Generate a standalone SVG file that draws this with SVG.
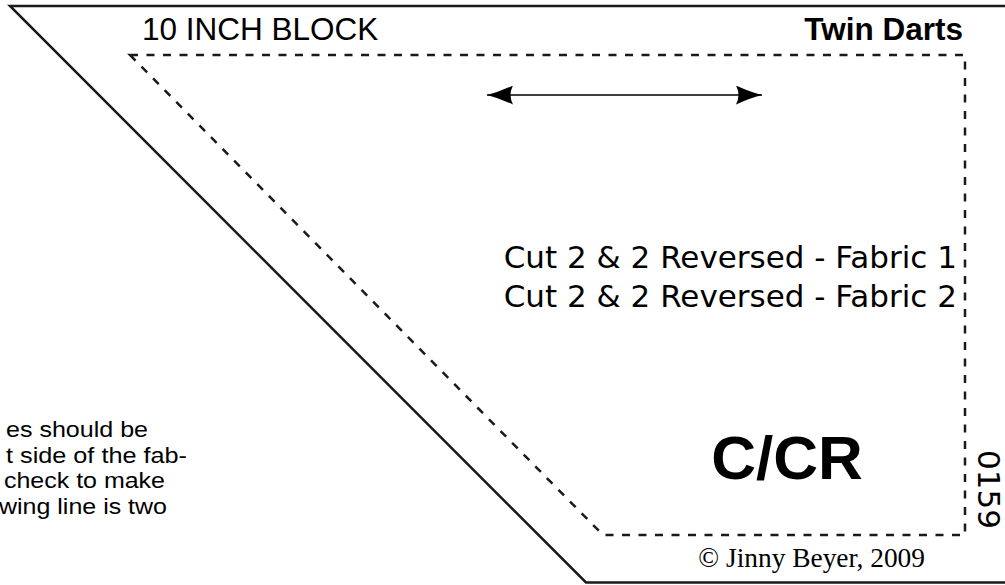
<svg xmlns="http://www.w3.org/2000/svg" width="1005" height="585" viewBox="0 0 1005 585">
  <style>
    .solid { fill: none; stroke: #1a1a1a; stroke-width: 2.5; }
    .seam { fill: none; stroke: #1a1a1a; stroke-width: 2.5; stroke-dasharray: 8 8.5; }
    .sans { font-family: "Liberation Sans", Arial, sans-serif; fill: #000; }
    .wide { font-family: "DejaVu Sans", sans-serif; fill: #000; }
    .serif { font-family: "Liberation Serif", "Times New Roman", serif; fill: #000; }
    .grain { stroke: #000; stroke-width: 1.6; fill: none; }
  </style>
  <defs>
    <marker id="barb" viewBox="0 0 26 19" refX="26" refY="9.5" markerWidth="26" markerHeight="19" markerUnits="userSpaceOnUse" orient="auto-start-reverse">
      <path d="M26,9.5 Q14,6.5 0,0 Q5,9.5 0,19 Q14,12.5 26,9.5 Z" fill="#000"/>
    </marker>
  </defs>
  <rect width="1005" height="585" fill="#fff"/>

  <g id="outline">
    <polyline class="solid" points="1010,6 10,6 586,582.5 1010,582.5"/>
  </g>

  <g id="seam-line">
    <polygon class="seam" points="130,55 965,55 965,535 603,535"/>
  </g>

  <g id="connectors">
    <line class="grain" x1="487" y1="95" x2="762" y2="95" marker-start="url(#barb)" marker-end="url(#barb)"/>
  </g>

  <g id="block-title">
    <text class="sans" x="142" y="40" font-size="31.5">10 INCH BLOCK</text>
  </g>
  <g id="pattern-name">
    <text class="sans" x="963" y="40" font-size="31.5" font-weight="bold" text-anchor="end">Twin Darts</text>
  </g>

  <g id="cutting-notes">
    <text class="wide" x="957" y="268" font-size="31" text-anchor="end">Cut 2 &amp; 2 Reversed - Fabric 1</text>
    <text class="wide" x="957" y="307" font-size="31" text-anchor="end">Cut 2 &amp; 2 Reversed - Fabric 2</text>
  </g>

  <g id="side-note">
    <text class="sans" x="6" y="437" font-size="22.8" textLength="142" lengthAdjust="spacingAndGlyphs">es should be</text>
    <text class="sans" x="6" y="462.5" font-size="22.8" textLength="181" lengthAdjust="spacingAndGlyphs">t side of the fab-</text>
    <text class="sans" x="4" y="488" font-size="22.8" textLength="161" lengthAdjust="spacingAndGlyphs">check to make</text>
    <text class="sans" x="-1" y="513.5" font-size="22.8" textLength="168" lengthAdjust="spacingAndGlyphs">wing line is two</text>
  </g>

  <g id="piece-label">
    <text class="sans" x="787" y="479" font-size="62" font-weight="bold" text-anchor="middle">C/CR</text>
  </g>

  <g id="piece-number">
    <text class="wide" transform="translate(978,450) rotate(90)" x="0" y="0" font-size="31">0159</text>
  </g>

  <g id="copyright">
    <text class="serif" x="925" y="567" font-size="27.4" text-anchor="end">© Jinny Beyer, 2009</text>
  </g>
</svg>
